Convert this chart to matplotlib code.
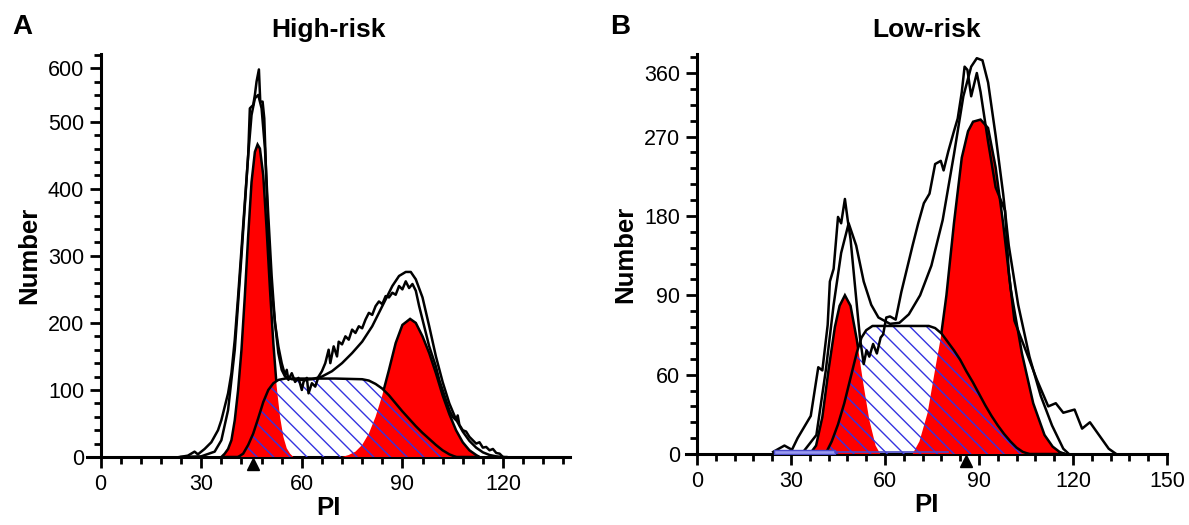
import numpy as np
import matplotlib
matplotlib.use("Agg")
import matplotlib.pyplot as plt
from matplotlib import transforms

plt.rcParams['font.family'] = ['Liberation Sans', 'DejaVu Sans']

# ---------------- panel A : High-risk ----------------
raw_a_x = [23.5, 26, 28, 29, 31, 33, 35, 36, 37, 38, 39, 40, 41, 42, 43, 44, 44.5, 45.5, 46, 46.5, 47.2,
           47.6, 48.3, 48.8, 49.5, 50.2, 51, 52, 53, 54, 55, 55.5, 56, 57, 58, 59, 60, 60.5, 61.5, 62,
           63, 64, 65, 66, 67, 68, 68.5, 69.5, 70.5, 71, 72, 73, 74, 75, 76, 77, 78, 79, 80, 81, 82,
           83, 84, 85, 86, 87, 88, 89, 90, 91, 92, 93, 94, 95, 96, 97, 98, 99, 100, 101, 102, 103,
           104, 105, 106, 106.5, 107, 108, 109, 110, 111, 112, 113, 114, 115, 116, 117, 118, 119, 120, 121]
raw_a_y = [0, 2, 8, 4, 12, 22, 40, 55, 75, 95, 125, 175, 240, 310, 380, 450, 520, 525, 540, 560, 578,
           530, 530, 505, 400, 310, 250, 200, 165, 140, 122, 130, 115, 125, 112, 118, 100, 112, 118, 95,
           110, 105, 120, 128, 140, 160, 140, 165, 150, 172, 168, 180, 175, 190, 185, 195, 192, 205, 215, 212, 225,
           232, 228, 240, 238, 245, 242, 255, 250, 262, 252, 258, 248, 225, 205, 185, 165, 150, 135, 115, 100, 85,
           70, 60, 55, 62, 48, 40, 38, 30, 25, 20, 22, 14, 15, 10, 12, 6, 5, 0, 0]

fit_a_x = [24, 30, 34, 36, 38, 40, 42, 44, 45, 46, 47, 48, 49, 50, 51, 52, 53, 54, 55, 57, 60, 63, 66,
           69, 72, 75, 78, 81, 84, 87, 89, 91, 92.5, 94, 96, 98, 100, 102, 104, 106, 108, 110, 112, 114,
           116, 118, 120]
fit_a_y = [0, 1, 8, 25, 70, 160, 300, 450, 510, 535, 540, 520, 460, 360, 270, 200, 155, 130, 120, 116,
           115, 116, 120, 128, 140, 155, 172, 195, 225, 255, 270, 276, 276, 265, 238, 195, 150, 112, 80,
           56, 38, 24, 14, 7, 3, 1, 0]

g1_a_x = [36, 37, 38, 39, 40, 41, 42, 43, 44, 45, 46, 46.8, 47.5, 48.5, 49.5, 50.5, 51.5, 52.5, 53.5,
          54.5, 55.5, 56.5, 57.5]
g1_a_y = [0, 5, 12, 25, 55, 100, 160, 240, 330, 410, 455, 466, 460, 420, 340, 250, 170, 105, 60, 30,
          13, 5, 0]

g2_a_x = [72, 74, 76, 78, 80, 82, 84, 86, 88, 90, 92.3, 94, 96, 98, 100, 102, 104, 106, 108, 110, 112, 113]
g2_a_y = [0, 3, 8, 18, 35, 60, 92, 130, 170, 197, 206, 200, 180, 155, 125, 92, 64, 40, 22, 10, 3, 0]

s_a_x = [41, 42.5, 44, 45.5, 47, 48.5, 50, 51.5, 53, 55, 60, 70, 78, 80, 82, 84, 86, 88, 90, 92, 94,
         96, 98, 100, 102, 104, 106]
s_a_y = [0, 5, 18, 35, 58, 82, 100, 110, 115, 117, 117, 117, 116, 114, 109, 102, 92, 80, 68, 57, 46,
         36, 27, 18, 10, 4, 0]

# ---------------- panel B : Low-risk ----------------
raw_b_x = [24.3, 27.9, 30.3, 32.1, 34.5, 36.3, 38.7, 40, 41.7, 42.4, 43.6, 45, 46, 47.2, 48.1, 49, 50.8,
           52, 53.2, 54.1, 55, 56.2, 57.4, 58.6, 59.4, 60.4, 61.6, 63.4, 65.2, 67, 68.8, 70.6, 72.4, 74.2,
           76, 77.8, 78.7, 80.2, 82, 83.2, 84.5, 85.4, 86.3, 87.5, 89.3, 90.5, 92.9, 95.3, 98.3, 99.5,
           101.3, 104.9, 108.5, 112.1, 114.5, 116.9, 120.5, 122.9, 125.4, 129, 131.4, 133.8]
raw_b_y = [2, 8, 4, 15, 27, 36, 82, 79, 122, 163, 175, 224, 218, 241, 221, 203, 147, 110, 85, 98, 92,
           104, 95, 110, 113, 129, 130, 127, 153, 175, 197, 218, 237, 246, 274, 277, 268, 286, 305, 317,
           342, 366, 363, 338, 360, 342, 295, 252, 230, 172, 126, 98, 70, 45, 48, 39, 42, 24, 30, 15, 5, 0]

fit_b_x = [33.9, 38.1, 41.1, 43.6, 46, 48.4, 50.8, 53.2, 55.6, 57.9, 61.6, 64.6, 67.6, 71.2, 74.8, 78.4,
           82, 85, 87.5, 89.3, 91.1, 92.9, 95.3, 97.7, 99.5, 102.5, 106.1, 109.7, 113.3, 116.9, 118.7]
fit_b_y = [2, 18, 79, 141, 190, 218, 197, 163, 141, 129, 123, 124, 132, 150, 178, 221, 283, 338, 366,
           374, 372, 351, 301, 246, 197, 141, 92, 55, 27, 5, 0]

g1_b_x = [36, 38, 40, 42, 44, 45.5, 47.2, 49, 51, 53, 55, 57, 58.5]
g1_b_y = [0, 8, 35, 80, 120, 140, 150, 140, 108, 68, 32, 8, 0]

g2_b_x = [68.8, 71, 73.6, 76, 77.8, 79.6, 82, 84.5, 86.5, 88.1, 90.5, 92.9, 95.3, 97.7, 100.1, 103.7,
          107.3, 110.9, 113.5, 115.7, 117.5]
g2_b_y = [0, 12, 39, 80, 110, 150, 218, 280, 305, 314, 316, 308, 271, 218, 156, 95, 48, 18, 7, 2, 0]

s_b_x = [41, 43, 45, 47, 49, 51, 52.5, 54, 56, 74, 76, 78, 80, 82, 84, 86, 88, 90, 92, 94, 96, 98,
         100, 102, 104, 106]
s_b_y = [0, 12, 28, 48, 72, 96, 110, 117, 121, 121, 119, 114, 106, 98, 89, 78, 68, 57, 46, 36, 27,
         19, 12, 6, 2, 0]

debris_b_x = [24.5, 44]
debris_b_h = 4
debris_line_x = [44, 80]

# axis ticks and marker positions
ticks_a_y = [0, 100, 200, 300, 400, 500, 580]
labels_a_y = ['0', '100', '200', '300', '400', '500', '600']
ticks_b_y = [0, 75, 150, 225, 300, 360]
labels_b_y = ['0', '60', '90', '180', '270', '360']
marker_a = 45.5
marker_b = 86

RED = '#ff0000'
BLUE = '#3434e0'

fig = plt.figure(figsize=(11.89, 5.25), dpi=100)
ax_a = fig.add_axes([0.0734, 0.1295, 0.406, 0.7676])
ax_b = fig.add_axes([0.577, 0.1352, 0.4045, 0.762])


def draw_panel(ax, g1x, g1y, g2x, g2y, sx, sy, rx, ry, fx, fy):
    # S-phase white background
    s_white = ax.fill(sx, sy, color='white', lw=0, zorder=2)[0]
    # G0/G1 and G2/M peaks, black edged
    for gx, gy in [(g1x, g1y), (g2x, g2y)]:
        ax.fill(gx, gy, facecolor=RED, edgecolor='k', lw=1.8, zorder=1)
        red_in = ax.fill(gx, gy, facecolor=RED, lw=0, zorder=3)[0]
        red_in.set_clip_path(s_white)
    # hatch over S-phase
    ax.fill(sx, sy, facecolor='none', edgecolor=BLUE, hatch='\\\\', lw=0, zorder=4)
    ax.plot(sx, sy, color='k', lw=1.8, zorder=5)
    # raw histogram and model sum
    ax.plot(rx, ry, color='k', lw=1.8, zorder=6)
    ax.plot(fx, fy, color='k', lw=1.8, zorder=6)


def style_axis(ax, xmax, xmajor, ymax, yticks, ylabels, yminor):
    for s in ['top', 'right']:
        ax.spines[s].set_visible(False)
    ax.spines['left'].set_position(('data', 0))
    ax.spines['left'].set_linewidth(2.2)
    ax.spines['bottom'].set_linewidth(2.2)
    ax.set_ylim(0, ymax)
    ax.set_xticks(xmajor)
    ax.set_xticks(np.arange(0, xmax + 0.1, 6), minor=True)
    ax.set_yticks(yticks)
    ax.set_yticklabels(ylabels)
    ax.set_yticks(np.arange(0, ymax, yminor), minor=True)
    ax.tick_params(axis='both', which='major', labelsize=15.5, width=2, length=8, pad=4)
    ax.tick_params(axis='both', which='minor', width=2, length=5)
    ax.set_xlabel('PI', fontsize=18.5, fontweight='bold', labelpad=1)
    ax.set_ylabel('Number', fontsize=18.5, fontweight='bold', labelpad=5)


draw_panel(ax_a, g1_a_x, g1_a_y, g2_a_x, g2_a_y, s_a_x, s_a_y, raw_a_x, raw_a_y, fit_a_x, fit_a_y)
ax_a.set_xlim(-4, 140)
style_axis(ax_a, 138, [0, 30, 60, 90, 120], 601, ticks_a_y, labels_a_y, 20)

draw_panel(ax_b, g1_b_x, g1_b_y, g2_b_x, g2_b_y, s_b_x, s_b_y, raw_b_x, raw_b_y, fit_b_x, fit_b_y)
ax_b.fill_between(debris_b_x, 0, debris_b_h, facecolor='#9a9af0', edgecolor='#4a4ac8', lw=1, zorder=7)
ax_b.plot(debris_line_x, [1.5, 1.5], color='#4a4ac8', lw=1.2, zorder=7)
ax_b.set_xlim(-3.5, 150)
style_axis(ax_b, 150, [0, 30, 60, 90, 120, 150], 378, ticks_b_y, labels_b_y, 15)

# peak markers just under the axis
for ax, mx in [(ax_a, marker_a), (ax_b, marker_b)]:
    tr = transforms.offset_copy(ax.transData, fig=fig, y=-5, units='points')
    ax.plot([mx], [0], marker='^', ms=9, color='k', transform=tr, clip_on=False, zorder=8)

ax_a.set_title('High-risk', fontsize=19, fontweight='bold', pad=12)
ax_b.set_title('Low-risk', fontsize=19, fontweight='bold', pad=12)
fig.text(0.010, 0.935, 'A', fontsize=20, fontweight='bold')
fig.text(0.513, 0.935, 'B', fontsize=20, fontweight='bold')

fig.savefig('out.png', dpi=100)
